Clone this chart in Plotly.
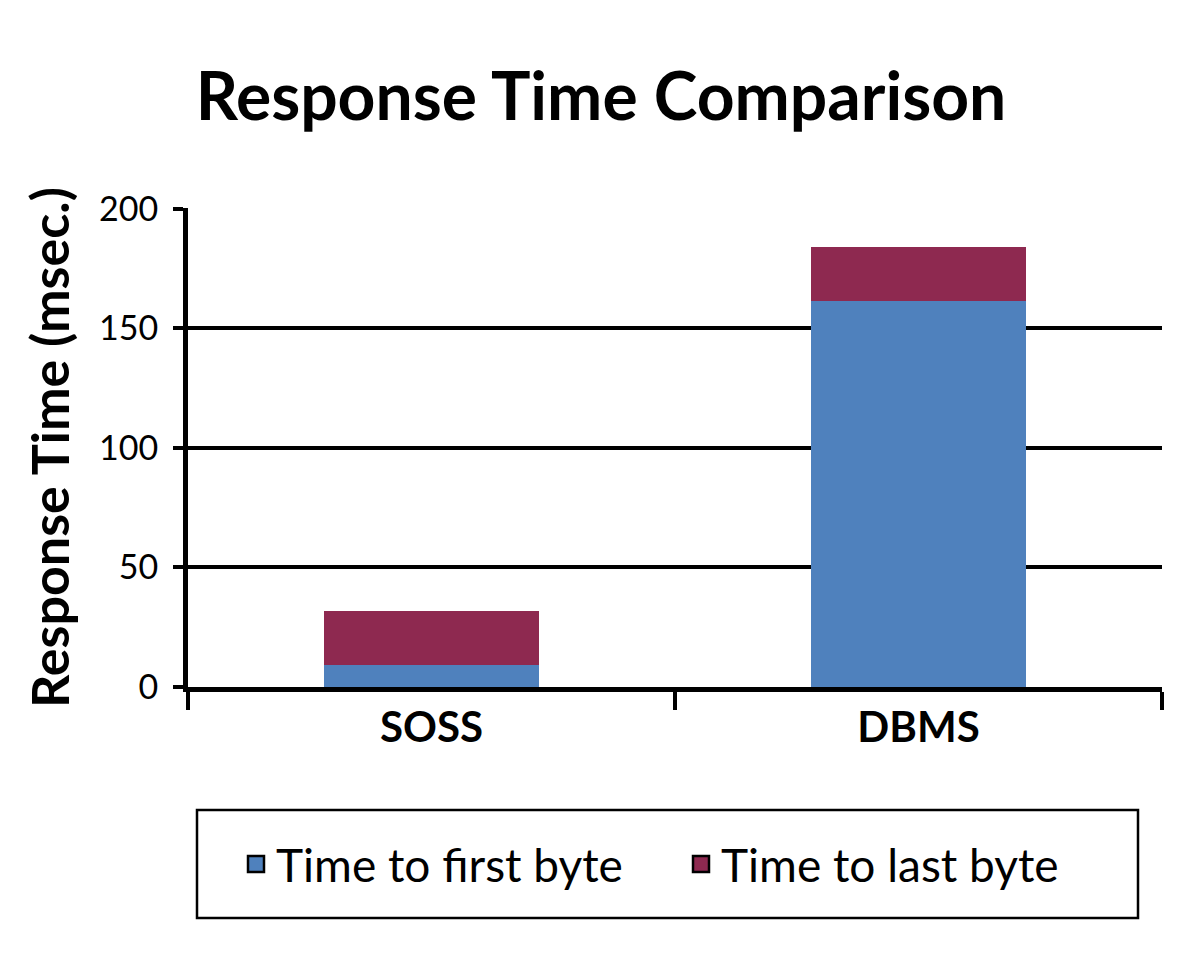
import plotly.graph_objects as go

categories = ["SOSS", "DBMS"]
first_byte = [9.2, 161.6]
last_byte = [22.5, 22.5]
series_names = ["Time to first byte", "Time to last byte"]
y_ticks = [0, 50, 100, 150, 200]

blue = "#4F81BD"
maroon = "#8E2950"
font_family = "Lato, 'Open Sans', sans-serif"

fig = go.Figure()
fig.add_trace(go.Bar(x=categories, y=first_byte, name=series_names[0],
                     marker=dict(color=blue, line=dict(width=0)), showlegend=False))
fig.add_trace(go.Bar(x=categories, y=last_byte, name=series_names[1],
                     marker=dict(color=maroon, line=dict(width=0)), showlegend=False))
# legend swatches
for name, col in zip(series_names, [blue, maroon]):
    fig.add_trace(go.Scatter(x=[None], y=[None], mode="markers", name=name,
                             marker=dict(symbol="square", size=30, color=col,
                                         line=dict(color="black", width=2.5))))

fig.update_layout(
    barmode="stack",
    bargap=0.56,
    width=1200, height=969,
    margin=dict(l=180, r=46, t=200, b=290),
    paper_bgcolor="white", plot_bgcolor="white",
    title=dict(text="<b>Response Time Comparison</b>", x=(601 - 8) / 1200, xanchor="center",
               y=1 - (97 - 8) / 969, yanchor="middle",
               font=dict(family=font_family, size=66, color="black")),
    font=dict(family=font_family, color="black"),
    showlegend=True,
    legend=dict(orientation="h", x=(681 - 188) / 974, xanchor="center",
                y=-(864 - 687) / 479, yanchor="middle", traceorder="normal",
                font=dict(size=46, color="black"), itemsizing="trace",
                entrywidth=400, entrywidthmode="pixels",
                bgcolor="rgba(0,0,0,0)", borderwidth=0),
)

fig.update_xaxes(
    showline=True, linecolor="black", linewidth=5,
    ticks="outside", tickson="boundaries", ticklen=18, tickwidth=4, tickcolor="black",
    tickfont=dict(size=42, color="black", family=font_family),
    tickprefix="<b>", ticksuffix="</b>",
    showgrid=False,
)
fig.update_yaxes(
    range=[0, 200.4], tickvals=y_ticks,
    showline=True, linecolor="black", linewidth=5,
    ticks="outside", ticklen=10, tickwidth=4, tickcolor="black",
    showgrid=True, gridcolor="black", gridwidth=4,
    zeroline=False,
    ticklabelstandoff=8,
    tickfont=dict(size=34, color="black", family=font_family),
    title=dict(text="<b>Response Time (msec.)</b>", font=dict(size=52, color="black"), standoff=14),
)

# legend frame
fig.add_shape(type="rect", xref="paper", yref="paper",
              x0=(197 - 188) / 974, x1=(1138 - 188) / 974,
              y0=-(918 - 687) / 479, y1=-(810 - 687) / 479,
              line=dict(color="black", width=2.5), fillcolor="rgba(0,0,0,0)")

fig.write_html("out.html")
